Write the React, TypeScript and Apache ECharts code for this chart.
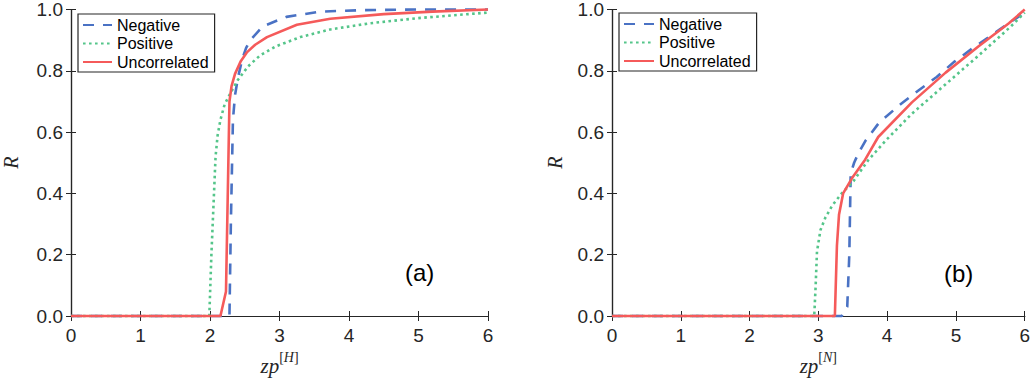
import React, { useEffect, useRef } from "react";
import * as echarts from "echarts";

// ---- data ----
const seriesNames = ["Negative", "Positive", "Uncorrelated"];

// panel (a): zp^[H]
const hNegative = [[0, 0], [2.28, 0], [2.30, 0.3], [2.33, 0.64], [2.36, 0.72], [2.40, 0.775], [2.46, 0.835], [2.52, 0.875], [2.58, 0.90], [2.76, 0.945], [3.1, 0.976], [3.58, 0.993], [4.2, 0.998], [5, 1], [6, 1]];
const hPositive = [[0, 0], [1.99, 0], [2.02, 0.2], [2.05, 0.36], [2.08, 0.52], [2.11, 0.59], [2.15, 0.64], [2.21, 0.69], [2.30, 0.73], [2.40, 0.77], [2.55, 0.815], [2.72, 0.85], [2.95, 0.88], [3.3, 0.91], [3.73, 0.935], [4.3, 0.955], [5, 0.972], [6, 0.99]];
const hUncorrelated = [[0, 0], [2.15, 0], [2.23, 0.08], [2.26, 0.45], [2.28, 0.70], [2.31, 0.75], [2.36, 0.79], [2.44, 0.83], [2.53, 0.86], [2.65, 0.885], [2.82, 0.91], [3.25, 0.95], [3.73, 0.97], [4.5, 0.985], [5.2, 0.993], [6, 1]];

// panel (b): zp^[N]
const nNegative = [[0, 0], [3.34, 0], [3.42, 0.03], [3.45, 0.2], [3.47, 0.465], [3.52, 0.50], [3.58, 0.53], [3.68, 0.57], [3.88, 0.63], [4.19, 0.69], [4.45, 0.735], [4.72, 0.78], [4.98, 0.83], [5.25, 0.875], [5.51, 0.915], [5.8, 0.96], [6, 0.99]];
const nPositive = [[0, 0], [2.94, 0], [2.96, 0.095], [2.98, 0.21], [3.03, 0.28], [3.10, 0.32], [3.20, 0.36], [3.34, 0.40], [3.51, 0.44], [3.73, 0.51], [3.99, 0.575], [4.36, 0.66], [4.85, 0.756], [5.33, 0.85], [5.80, 0.945], [6, 0.99]];
const nUncorrelated = [[0, 0], [3.24, 0], [3.27, 0.23], [3.30, 0.33], [3.36, 0.40], [3.49, 0.45], [3.68, 0.51], [3.87, 0.584], [4.36, 0.697], [4.85, 0.794], [5.33, 0.88], [5.77, 0.955], [6, 1.0]];

const panelLabels = ["(a)", "(b)"];
const xNames = ["H", "N"];

const COLORS = { Negative: "#4A72C4", Positive: "#55C58A", Uncorrelated: "#F55A5A" };
const AXIS = "#262626";
const SANS = "Liberation Sans, Arial, Helvetica, sans-serif";
const SERIF = "Liberation Serif, Times New Roman, serif";

export default function App() {
  const ref = useRef<HTMLDivElement>(null);
  useEffect(() => {
    if (!ref.current) return;
    const chart = echarts.init(ref.current, null, { renderer: "svg" });

    const grids = [
      { left: 71, top: 6, width: 417, height: 310 },
      { left: 612, top: 6, width: 415, height: 310 },
    ];

    const xAxes: any[] = [];
    const yAxes: any[] = [];
    grids.forEach((_, gi) => {
      xAxes.push({
        type: "value", gridIndex: gi, min: 0, max: 6, interval: 1, position: "bottom",
        axisLine: { show: true, lineStyle: { color: AXIS, width: 1.2 } },
        axisTick: { show: true, inside: true, length: 5, lineStyle: { color: AXIS } },
        axisLabel: { color: AXIS, fontSize: 19, fontFamily: SANS, margin: 10 },
        splitLine: { show: false },
        name: `{i|zp}{s|[}{si|${xNames[gi]}}{s|]}`,
        nameLocation: "middle",
        nameGap: 34,
        nameTextStyle: {
          rich: {
            i: { fontFamily: SERIF, fontStyle: "italic", fontSize: 21, color: AXIS, verticalAlign: "bottom", lineHeight: 26 },
            s: { fontFamily: SERIF, fontSize: 14, color: AXIS, verticalAlign: "top", lineHeight: 26 },
            si: { fontFamily: SERIF, fontStyle: "italic", fontSize: 14, color: AXIS, verticalAlign: "top", lineHeight: 26 },
          },
        },
      });
      xAxes.push({
        type: "value", gridIndex: gi, min: 0, max: 6, interval: 1, position: "top",
        axisLine: { show: true, lineStyle: { color: AXIS, width: 1.2 } },
        axisTick: { show: true, inside: true, length: 5, lineStyle: { color: AXIS } },
        axisLabel: { show: false },
        splitLine: { show: false },
      });
      yAxes.push({
        type: "value", gridIndex: gi, min: 0, max: 1, interval: 0.2, position: "left",
        axisLine: { show: true, lineStyle: { color: AXIS, width: 1.2 } },
        axisTick: { show: true, inside: true, length: 5, lineStyle: { color: AXIS } },
        axisLabel: { color: AXIS, fontSize: 19, fontFamily: SANS, margin: 8, formatter: (v: number) => v.toFixed(1) },
        splitLine: { show: false },
        name: "R",
        nameLocation: "middle",
        nameGap: gi === 0 ? 50 : 47,
        nameRotate: 90,
        nameTextStyle: { fontFamily: SERIF, fontStyle: "italic", fontSize: 20, color: AXIS },
      });
      yAxes.push({
        type: "value", gridIndex: gi, min: 0, max: 1, interval: 0.2, position: "right",
        axisLine: { show: true, lineStyle: { color: AXIS, width: 1.2 } },
        axisTick: { show: true, inside: true, length: 5, lineStyle: { color: AXIS } },
        axisLabel: { show: false },
        splitLine: { show: false },
      });
    });

    const styleFor = (name: string) => {
      if (name === "Negative") return { color: COLORS.Negative, width: 2.6, type: [11, 9] };
      if (name === "Positive") return { color: COLORS.Positive, width: 2.6, type: [2.6, 3.4] };
      return { color: COLORS.Uncorrelated, width: 2.6, type: "solid" };
    };

    const panelData = [
      { Negative: hNegative, Positive: hPositive, Uncorrelated: hUncorrelated },
      { Negative: nNegative, Positive: nPositive, Uncorrelated: nUncorrelated },
    ];

    const series: any[] = [];
    panelData.forEach((pd: any, gi) => {
      seriesNames.forEach((name) => {
        series.push({
          type: "line",
          name,
          xAxisIndex: gi * 2,
          yAxisIndex: gi * 2,
          data: pd[name],
          showSymbol: false,
          symbol: "none",
          lineStyle: styleFor(name),
          itemStyle: { color: (COLORS as any)[name] },
          clip: false,
        });
      });
    });

    const legendBase = {
      orient: "vertical",
      data: seriesNames,
      itemHeight: 14,
      itemGap: 2.5,
      padding: [3, 6, 2, 4],
      borderColor: AXIS,
      borderWidth: 1.2,
      borderRadius: 0,
      backgroundColor: "#fff",
      itemStyle: { opacity: 0 },
      textStyle: { fontSize: 16, fontFamily: SANS, color: "#000" },
      selectedMode: false,
    };

    chart.setOption({
      animation: false,
      backgroundColor: "#fff",
      grid: grids,
      xAxis: xAxes,
      yAxis: yAxes,
      series,
      legend: [
        { ...legendBase, left: 78, top: 14, itemWidth: 29, itemTextGap: 4 },
        { ...legendBase, left: 619, top: 13, itemWidth: 30, itemTextGap: 3 },
      ],
      graphic: [
        { type: "text", left: 405, top: 260, style: { text: panelLabels[0], fontSize: 24, fontFamily: SANS, fill: "#000" } },
        { type: "text", left: 944, top: 261, style: { text: panelLabels[1], fontSize: 24, fontFamily: SANS, fill: "#000" } },
      ],
    });

    return () => chart.dispose();
  }, []);

  return (
    <div
      ref={ref}
      style={{ position: "fixed", left: 0, top: 0, width: 1033, height: 384, background: "#fff" }}
    />
  );
}
